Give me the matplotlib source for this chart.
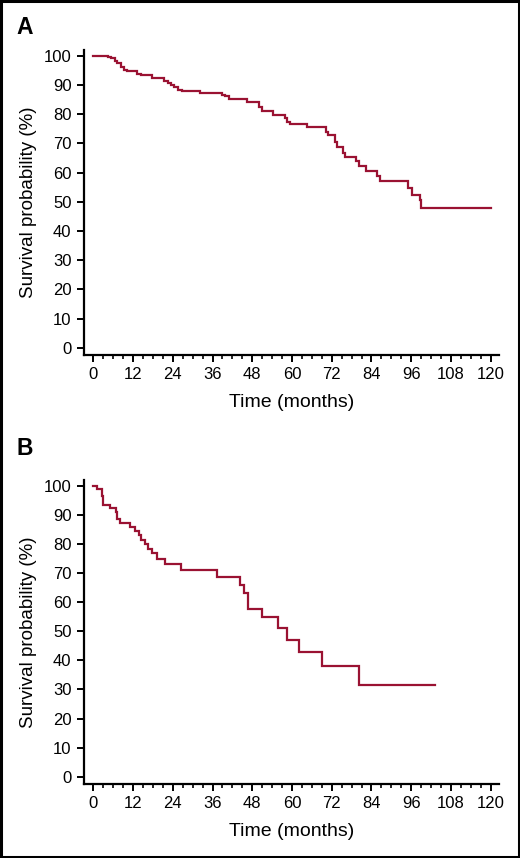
import matplotlib
matplotlib.use("Agg")
import matplotlib.pyplot as plt
from matplotlib.patches import Rectangle
from matplotlib.ticker import MultipleLocator

# Panel A: Kaplan-Meier steps (months, survival %)
a_times = [0, 4.5, 5.5, 6.5, 7.3, 8.3, 9.3, 10.3, 13.1, 14.5, 17.6, 21.5, 22.5, 23.5,
           24.5, 25.5, 26.7, 32.2, 38.9, 39.9, 41.0, 46.3, 50.0, 51.0, 54.4, 57.9,
           58.6, 59.4, 64.5, 70.3, 70.8, 73.0, 73.7, 75.3, 76.0, 79.4, 80.1, 82.4,
           85.8, 86.6, 94.9, 96.2, 98.5, 99.0, 120.0]
a_surv = [100, 99.6, 99.2, 98.4, 97.5, 96.3, 95.2, 94.8, 93.7, 93.3, 92.3, 91.5, 90.7,
          89.9, 89.2, 88.4, 87.9, 87.1, 86.6, 86.1, 85.3, 84.3, 82.6, 81.1, 79.8,
          78.6, 77.5, 76.6, 75.5, 74.0, 72.9, 70.6, 68.6, 66.6, 65.3, 63.8, 62.3,
          60.7, 58.9, 57.1, 54.6, 52.3, 50.6, 47.8, 47.8]

# Panel B
b_times = [0, 1.0, 2.5, 3.0, 5.0, 6.8, 7.3, 8.0, 11.1, 12.6, 13.9, 14.4, 15.5, 16.5,
           17.6, 19.3, 21.7, 26.5, 37.4, 44.3, 45.6, 46.6, 50.9, 55.9, 58.6, 62.1,
           69.0, 80.3, 103.2]
b_surv = [100, 98.9, 96.6, 93.5, 92.4, 90.9, 88.6, 87.2, 85.7, 84.6, 83.1, 81.4, 80.0,
          78.3, 76.8, 75.0, 73.0, 71.0, 68.5, 66.0, 63.0, 57.5, 55.0, 51.0, 47.0,
          43.0, 38.0, 31.5, 31.5]

panel_labels = ["A", "B"]
x_ticks = list(range(0, 121, 12))
y_ticks = list(range(0, 101, 10))
x_label = "Time (months)"
y_label = "Survival probability (%)"

line_color = "#9a1232"
plt.rcParams["font.family"] = ["Liberation Sans", "DejaVu Sans"]

fig = plt.figure(figsize=(5.2, 8.58), dpi=100)
fig.patch.set_facecolor("white")

W, H = 520, 858
def axrect(l, t, r, b):
    return [l / W, 1 - b / H, (r - l) / W, (b - t) / H]

axes_px = [(84, 50, 499, 355), (84, 480, 499, 784)]
letters_px = [(16, 34), (16, 455)]
datasets = [(a_times, a_surv), (b_times, b_surv)]

for (l, t, r, b), (lx, ly), lab, (tt, ss) in zip(axes_px, letters_px, panel_labels, datasets):
    ax = fig.add_axes(axrect(l, t, r, b))
    ax.step(tt, ss, where="post", color=line_color, lw=1.6, solid_joinstyle="miter")
    ax.set_xlim(-2.8, 122.5)
    ax.set_ylim(-2.5, 102)
    for s in ["top", "right"]:
        ax.spines[s].set_visible(False)
    for s in ["left", "bottom"]:
        ax.spines[s].set_linewidth(1.6)
    ax.set_xticks(x_ticks)
    ax.set_yticks(y_ticks)
    ax.xaxis.set_minor_locator(MultipleLocator(3))
    ax.tick_params(axis="both", which="major", direction="out", length=5, width=1.4,
                   labelsize=12, pad=4, color="black")
    ax.tick_params(axis="x", which="minor", direction="out", length=3, width=1.2)
    ax.set_xlabel(x_label, fontsize=14, labelpad=8)
    ax.set_ylabel(y_label, fontsize=13.5, labelpad=5)
    fig.text(lx / W, 1 - ly / H, lab, fontsize=16.5, fontweight="bold", ha="left", va="baseline")

fig.add_artist(Rectangle((0.002, 0.0015), 0.996, 0.997, transform=fig.transFigure,
                         fill=False, edgecolor="black", lw=2.2))

fig.savefig("out.png", dpi=100, facecolor="white")
